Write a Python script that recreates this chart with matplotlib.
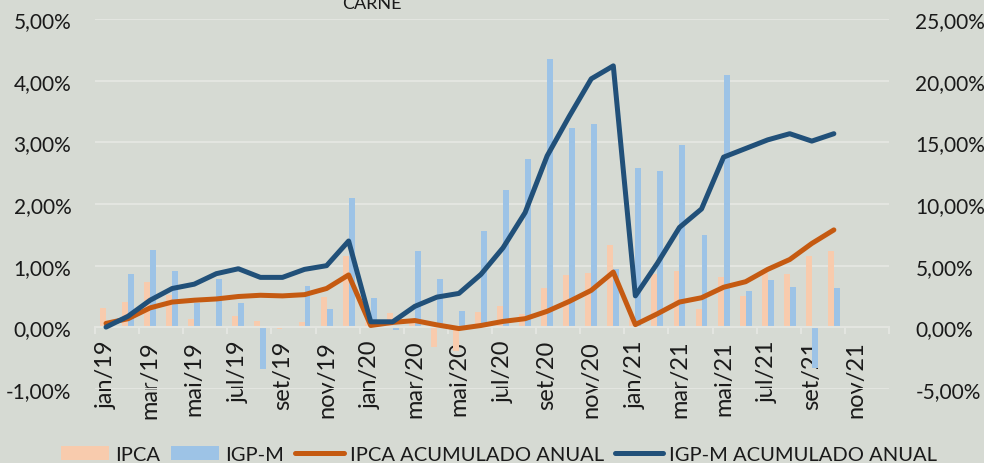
import numpy as np
import matplotlib
matplotlib.use('Agg')
import matplotlib.pyplot as plt
from matplotlib.ticker import FuncFormatter, MultipleLocator, FixedLocator

plt.rcParams['font.family'] = ['Lato', 'DejaVu Sans']

nan = np.nan
# meses jan/19 .. dez/21
meses = ['jan', 'fev', 'mar', 'abr', 'mai', 'jun', 'jul', 'ago', 'set', 'out', 'nov', 'dez']
rotulos = [m + '/' + a for a in ['19', '20', '21'] for m in meses]

# variacao mensal (%), eixo esquerdo
ipca = [0.32, 0.41, 0.74, 0.52, 0.13, 0.02, 0.18, 0.10, -0.03, 0.09, 0.50, 1.15,
        0.08, 0.23, 0.11, -0.32, -0.38, 0.25, 0.35, 0.22, 0.64, 0.85, 0.88, 1.34,
        0.15, 0.86, 0.92, 0.29, 0.81, 0.51, 0.88, 0.86, 1.15, 1.24, nan, nan]
igpm = [0.02, 0.87, 1.25, 0.92, 0.39, 0.79, 0.40, -0.67, 0.00, 0.67, 0.29, 2.10,
        0.47, -0.04, 1.23, 0.79, 0.26, 1.56, 2.22, 2.73, 4.35, 3.24, 3.29, 0.95,
        2.59, 2.54, 2.95, 1.50, 4.10, 0.59, 0.77, 0.65, -0.66, 0.63, nan, nan]

# acumulado no ano (%), eixo direito
ipca_acum = [0.32, 0.70, 1.58, 2.05, 2.20, 2.30, 2.50, 2.60, 2.55, 2.65, 3.15, 4.25,
             0.15, 0.40, 0.55, 0.20, -0.10, 0.15, 0.48, 0.70, 1.30, 2.10, 3.00, 4.48,
             0.22, 1.10, 2.05, 2.40, 3.25, 3.70, 4.70, 5.50, 6.80, 7.90, nan, nan]
igpm_acum = [0.02, 0.90, 2.20, 3.15, 3.50, 4.35, 4.75, 4.05, 4.05, 4.70, 5.00, 7.00,
             0.45, 0.45, 1.70, 2.45, 2.75, 4.30, 6.45, 9.30, 13.90, 17.10, 20.15, 21.20,
             2.55, 5.20, 8.10, 9.60, 13.80, 14.50, 15.20, 15.70, 15.10, 15.70, nan, nan]

bg = '#d6dad3'
grid_c = '#e3e5e0'
txt_c = '#1a1a1a'

x = np.arange(len(rotulos))
w = 0.27

fig = plt.figure(figsize=(9.84, 4.64), dpi=100, facecolor=bg)
ax = fig.add_axes([95 / 984, 1 - 390 / 464, (889 - 95) / 984, 370 / 464])
ax.set_facecolor(bg)
ax2 = ax.twinx()

b1 = ax.bar(x - w / 2, ipca, w, color='#f8cbad', label='IPCA', zorder=2)
b2 = ax.bar(x + w / 2, igpm, w, color='#9dc3e6', label='IGP-M', zorder=2)
l1, = ax2.plot(x, ipca_acum, color='#c55a11', lw=3.6, label='IPCA ACUMULADO ANUAL',
               solid_capstyle='round', solid_joinstyle='round')
l2, = ax2.plot(x, igpm_acum, color='#215079', lw=3.6, label='IGP-M ACUMULADO ANUAL',
               solid_capstyle='round', solid_joinstyle='round')

ax.set_xlim(-0.5, len(rotulos) - 0.5)
ax.set_ylim(-1, 5)
ax2.set_ylim(-5, 25)

ax.yaxis.set_major_locator(MultipleLocator(1))
ax2.yaxis.set_major_locator(MultipleLocator(5))
fmt = FuncFormatter(lambda v, p: ('%.2f' % v).replace('.', ',') + '%')
ax.yaxis.set_major_formatter(fmt)
ax2.yaxis.set_major_formatter(fmt)
ax.grid(axis='y', color=grid_c, lw=1.5, zorder=0)
ax.set_axisbelow(True)

# eixo de categorias no zero
ax.spines['bottom'].set_position(('data', 0))
ax.spines['bottom'].set_color(grid_c)
ax.spines['bottom'].set_linewidth(1.5)
for s in ['top', 'left', 'right']:
    ax.spines[s].set_visible(False)
for s in ['top', 'left', 'right', 'bottom']:
    ax2.spines[s].set_visible(False)

ax.xaxis.set_major_locator(FixedLocator(np.arange(-0.5, len(rotulos), 2)))
ax.xaxis.set_minor_locator(FixedLocator(x[::2]))
ax.set_xticklabels([], minor=False)
ax.set_xticklabels(rotulos[::2], minor=True, rotation=90, fontsize=17, color=txt_c)
ax.tick_params(axis='x', which='major', length=5, width=1.5, color=grid_c)
ax.tick_params(axis='x', which='minor', length=0, pad=9)

ax.tick_params(axis='y', length=0, pad=17, labelsize=15, labelcolor=txt_c)
ax2.tick_params(axis='y', length=0, pad=19, labelsize=15, labelcolor=txt_c)

fig.text(372 / 984, 1 - 4 / 464, 'CARNE', ha='center', va='center', fontsize=13, color=txt_c)

fig.legend(handles=[b1, b2, l1, l2], loc='lower center', bbox_to_anchor=(0.507, -0.04),
           ncol=4, frameon=False, fontsize=14.5, handlelength=2.4, handletextpad=0.3,
           columnspacing=0.55, labelcolor=txt_c)

fig.savefig('out.png', dpi=100, facecolor=bg)
